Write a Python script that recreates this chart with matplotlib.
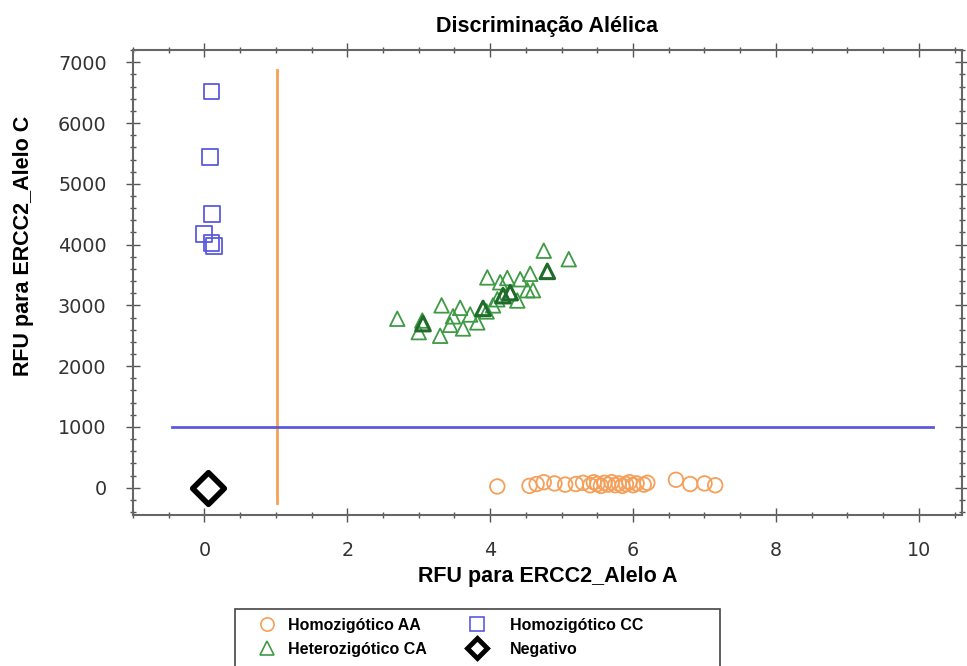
import matplotlib.pyplot as plt
from matplotlib.ticker import MultipleLocator
from matplotlib.lines import Line2D
from matplotlib.patches import Rectangle

plt.rcParams['font.family'] = ['Liberation Sans', 'DejaVu Sans']

# Homozigótico AA (alelo A)
aa_x = [4.1, 4.55, 4.65, 4.75, 4.9, 5.05, 5.2, 5.3, 5.4, 5.45, 5.5, 5.55, 5.6, 5.65, 5.7,
        5.75, 5.8, 5.85, 5.9, 5.95, 6.0, 6.05, 6.15, 6.2, 6.6, 6.8, 7.0, 7.15]
aa_y = [20, 30, 60, 90, 70, 50, 60, 80, 40, 90, 60, 30, 80, 50, 90,
        40, 70, 30, 60, 90, 40, 70, 50, 80, 130, 60, 70, 40]
# Homozigótico CC (alelo C)
cc_x = [0.1, 0.08, 0.11, 0.0, 0.1, 0.13]
cc_y = [6520, 5440, 4500, 4170, 4020, 3980]
# Heterozigótico CA
ca_x = [2.7, 3.05, 3.0, 3.06, 3.32, 3.3, 3.44, 3.58, 3.48, 3.62, 3.72, 3.82, 3.9, 3.96,
        4.04, 4.14, 4.18, 4.24, 4.28, 4.38, 4.42, 4.52, 4.56, 4.75, 4.8, 5.1, 3.95, 4.1, 4.6]
ca_y = [2780, 2750, 2560, 2700, 3000, 2500, 2680, 2960, 2820, 2620, 2850, 2720, 2950, 3460,
        3000, 3380, 3160, 3450, 3210, 3080, 3430, 3250, 3520, 3900, 3560, 3760, 2900, 3100, 3250]
ca_dark = [3, 12, 16, 18, 24]
# Negativo
neg_x = [0.05]
neg_y = [0]

orange = '#f5a05a'
blue = '#5a5ae0'
green = '#3f9a45'

fig = plt.figure(figsize=(9.67, 6.66), dpi=100)
ax = fig.add_axes([0.1375, 0.2267, 0.857, 0.698])

# limites de corte
ax.plot([1.02, 1.02], [-250, 6870], color=orange, lw=2, zorder=1)
ax.plot([-0.45, 10.2], [1000, 1000], color=blue, lw=2, zorder=1)

ax.scatter(aa_x, aa_y, s=110, facecolors='none', edgecolors=orange, linewidths=1.3, zorder=3)
ax.scatter(ca_x, ca_y, s=110, marker='^', facecolors='none', edgecolors=green, linewidths=1.3, zorder=3)
ax.scatter([ca_x[i] for i in ca_dark], [ca_y[i] for i in ca_dark], s=110, marker='^',
           facecolors='none', edgecolors='#1f6b2a', linewidths=2.2, zorder=4)
ax.scatter(cc_x, cc_y, s=130, marker='s', facecolors='none', edgecolors=blue, linewidths=1.3, zorder=3)
ax.scatter(neg_x, neg_y, s=260, marker='D', facecolors='white', edgecolors='black', linewidths=4, zorder=5)

ax.set_xlim(-1.0, 10.6)
ax.set_ylim(-450, 7200)
ax.xaxis.set_major_locator(MultipleLocator(2))
ax.xaxis.set_minor_locator(MultipleLocator(0.5))
ax.yaxis.set_major_locator(MultipleLocator(1000))
ax.yaxis.set_minor_locator(MultipleLocator(200))
ax.tick_params(which='both', direction='inout', top=True, right=True, colors='#555555',
               labelcolor='#333333')
ax.tick_params(which='major', length=10, width=1, pad=14)
ax.tick_params(which='minor', length=5, width=1)
for lab in ax.get_xticklabels() + ax.get_yticklabels():
    lab.set_family('DejaVu Sans')
    lab.set_fontsize(13.8)
for s in ax.spines.values():
    s.set_color('#666666')
    s.set_linewidth(1.5)

ax.set_title('Discriminação Alélica', fontsize=15.5, fontweight='bold', pad=13)
ax.set_xlabel('RFU para ERCC2_Alelo A', fontsize=15.5, fontweight='bold', labelpad=4)
ax.set_ylabel('RFU para ERCC2_Alelo C', fontsize=15.5, fontweight='bold')
ax.yaxis.set_label_coords(-0.12, 0.58)

# legenda em duas colunas
col1 = [Line2D([], [], ls='none', marker='o', ms=9.5, mfc='none', mec=orange, mew=1.2),
        Line2D([], [], ls='none', marker='^', ms=10, mfc='none', mec=green, mew=1.2)]
col2 = [Line2D([], [], ls='none', marker='s', ms=9.5, mfc='none', mec=blue, mew=1.2),
        Line2D([], [], ls='none', marker='D', ms=10, mfc='white', mec='black', mew=3.5)]
leg_kw = dict(loc='upper left', prop={'weight': 'bold', 'size': 11.5}, frameon=False,
              borderpad=0, borderaxespad=0, handlelength=1.0, labelspacing=0.55)
fig.legend(col1, ['Homozigótico AA', 'Heterozigótico CA'], bbox_to_anchor=(0.2678, 0.072),
           handletextpad=0.8, **leg_kw)
fig.legend(col2, ['Homozigótico CC', 'Negativo'], bbox_to_anchor=(0.485, 0.072),
           handletextpad=1.55, **leg_kw)
fig.add_artist(Rectangle((0.243, -0.02), 0.502, 0.1056, transform=fig.transFigure,
                         fill=False, edgecolor='#444444', lw=1.2))

fig.savefig('out.png', dpi=100)
